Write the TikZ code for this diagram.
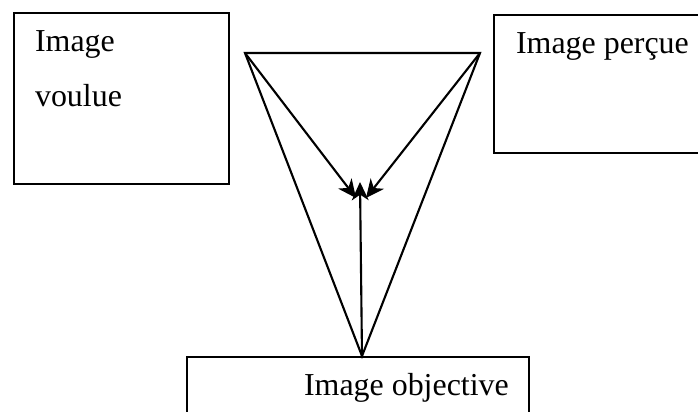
\documentclass[tikz,border=0pt]{standalone}
\usepackage{fontspec}
\setmainfont{Liberation Serif}
\usepackage{tikz}
\usetikzlibrary{arrows.meta,positioning}
\tikzstyle{frame}=[draw, rectangle, line width=1.2pt, anchor=north west, inner sep=0pt]
\tikzstyle{caption}=[anchor=base west, inner sep=0pt, font=\fontsize{22.7}{26}\selectfont]

\begin{document}
\begin{tikzpicture}[x=0.025cm, y=-0.025cm, line width=1.5pt, >={Stealth[length=13pt,width=12pt,inset=4pt]}]
    \useasboundingbox (0,0) rectangle (698,412);
    \clip (0,0) rectangle (698,412);
    % Place the three boxes
    \node[frame, minimum width=5.375cm, minimum height=4.275cm] (voulue) at (13,12) {};
    \node[frame, minimum width=5.25cm, minimum height=3.45cm] (percue) at (493,14) {};
    \node[frame, minimum width=8.55cm, minimum height=1.8cm] (objective) at (186,356) {};
    \node[caption] (t1) at (34,52) {Image};
    \node[caption] (t2) at (34,107) {voulue};
    \node[caption] (t3) at (515,54) {Image perçue};
    \node[caption] (t4) at (303,396) {Image objective};

    % triangle and the meeting point
    \coordinate (a) at (245,53);
    \coordinate (b) at (480,53);
    \coordinate (c) at (362,356);
    \coordinate (m1) at (356,198);
    \coordinate (m2) at (366,198);
    \coordinate (m3) at (360,182);
    \draw[line join=miter] (a) -- (b) -- (c) -- cycle;

     \path[->] (a) edge (m1);
     \path[->] (b) edge (m2);
     \path[->] (c) edge (m3);

  \end{tikzpicture}
\end{document}
